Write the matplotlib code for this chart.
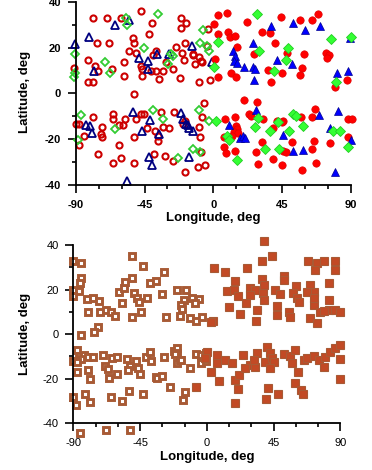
import matplotlib
matplotlib.use("Agg")
import matplotlib.pyplot as plt
from matplotlib.ticker import MultipleLocator

plt.rcParams['font.family'] = ['Liberation Sans', 'DejaVu Sans']
plt.rcParams['axes.unicode_minus'] = False

# ---------------- top panel data ----------------
red_open_lon = [-78.5, -69.3, -60.4, -47.3, -40.1, -41.8, -21.2, -17.9, -21.2,
                -76.0, -68.4, -52.7, -51.6, -54.9, -50.6, -37.5, -39.2, -24.4, -18.5, -13.5, -9.6, -7.4, -11.8, -20.5, -19.0,
                -82.1, -77.3, -90.9, -75.6, -66.3, -58.4, -58.6, -82.1, -78.5, -51.6, -46.6, -47.3, -40.6, -37.5, -33.1,
                -31.0, -26.6, -46.6, -35.3, -21.6, -9.2, -2.2, -3.3, -4.4, -13.1, -8.1,
                -78.5, -89.8, -87.6, -84.8, -87.6, -72.8, -73.4, -73.0, -75.6, -65.4, -65.4, -61.5, -57.5, -58.8,
                -47.3, -45.1, -50.6, -34.2, -43.4, -37.9, -36.4, -36.4, -33.1, -29.2, -51.6, -61.5, -65.4, -60.4,
                -51.6, -38.6, -31.4, -26.6, -18.3, -10.3, -5.2, -8.1, -8.5, -9.6, -7.4, -6.3, -25.5, -20.0, -18.3]
red_open_lat = [33.1, 33.1, 33.1, 36.0, 30.7, 25.8, 32.8, 30.7, 28.7,
                21.9, 21.9, 24.1, 21.8, 18.6, 17.5, 18.6, 16.8, 20.3, 21.8, 16.8, 15.7, 13.6, 12.8, 17.8, 14.5,
                14.8, 11.9, 11.3, 9.9, 10.7, 13.8, 7.5, 4.9, 4.9, -0.3, 10.6, 12.1, 9.9, 9.9, 9.9,
                13.8, 10.6, 7.5, 6.5, 6.7, 4.8, 6.0, 28.0, 20.7, 17.1, 14.2,
                -10.4, -13.3, -13.3, -18.4, -22.3, -14.5, -17.7, -19.0, -26.4, -9.0, -11.1, -13.6, -11.1, -13.6,
                -9.0, -9.0, -11.1, -8.3, -15.2, -16.2, -18.4, -20.6, -14.8, -15.2, -19.1, -22.3, -30.4, -28.1,
                -30.4, -26.4, -27.1, -29.3, -34.3, -32.2, -31.4, -25.6, -19.1, -14.5, -10.4, -4.2, -8.0, -13.3, -11.9]

blue_open_lon = [-90.4, -81.5, -64.3, -55.3, -48.4, -36.8, -28.8, -14.0, -78.0, -42.9, -42.9, -0.7,
                 -83.2, -80.6, -79.3, -52.7, -41.4, -46.6, -35.3, -42.3, -40.1, -56.4, -16.2, -21.2,
                 -20.0, -17.9, -16.8, -15.7, -13.5]
blue_open_lat = [21.5, 24.6, 29.7, 32.2, 15.4, 17.1, 17.4, 20.7, 9.9, 14.2, 10.6, 13.5,
                 -13.6, -14.0, -17.4, -8.3, -11.4, -16.5, -17.7, -27.5, -31.4, -38.0, -27.5, -8.7,
                 -11.1, -13.3, -13.8, -15.2, -16.4]

green_open_lon = [-57.0, -56.4, -36.4, -6.6, -45.5, -27.7, -26.6, -8.7, -4.4, -2.6, -90.4, -90.2, -90.9,
                  -70.6, -67.6, -29.9,
                  -86.5, -88.3, -64.1, -39.7, -33.1, -23.0, -13.5, -8.7, -9.6, -2.6]
green_open_lat = [32.8, 29.9, 34.8, 27.7, 20.0, 17.1, 16.4, 22.2, 20.7, 18.6, 17.1, 9.1, 7.0,
                  13.8, 8.9, 13.0,
                  -9.3, -20.3, -15.5, -7.2, -11.1, -28.2, -24.2, -25.7, -7.2, -12.2]

red_fill_lon = [3.3, 8.7, 21.8, 0.6, 2.8, 9.4, 10.9, 14.2, 31.6, 37.0, 44.0, 56.7, 64.7, 68.6, 40.3, 47.9,
                59.3, 73.4, 75.5, 74.2, 26.8, 15.7, 35.5, 44.7, 57.8, 56.7, 37.5, 3.3, 11.5, 14.6, 1.3,
                87.6, 79.8,
                20.3, 28.8, 23.5, 24.8, 31.8, 27.9, 29.2, 7.4, 14.4, 14.8, 15.6, 13.7, 16.3, 11.9, 6.8, 7.2,
                8.5, 14.4, 32.7, 38.8, 44.9, 57.8, 67.1, 45.8, 64.5, 66.0, 51.4, 39.2, 41.4, 45.8, 57.3,
                66.7, 64.5, 76.3, 87.8, 90.9, 87.8, 44.9, 47.5]
red_fill_lat = [34.2, 34.9, 31.2, 30.2, 26.1, 27.0, 24.4, 25.1, 27.0, 26.2, 33.3, 31.9, 31.9, 34.8, 21.9, 17.8,
                17.1, 17.5, 16.8, 15.3, 17.1, 20.3, 10.2, 8.8, 11.0, 8.1, 5.1, 7.3, 9.1, 7.3, 15.2,
                5.9, 2.9,
                -2.8, -3.9, -9.0, -10.0, -21.3, -25.7, -30.7, -11.1, -10.1, -14.0, -15.5, -17.0, -17.4, -18.6,
                -19.0, -23.5, -26.0, -24.9, -11.1, -28.7, -31.4, -33.2, -30.3, -24.9, -24.2, -20.6, -21.3,
                -15.1, -11.9, -11.9, -10.1, -6.8, -10.1, -21.7, -11.1, -11.1, -18.8, -12.3, -25.7]

blue_fill_lon = [37.7, 51.9, 59.9, 69.9, 89.6, 25.7, 13.0, 14.2, 13.7, 15.2, 19.8, 25.7, 27.4, 26.8,
                 41.4, 51.2, 80.9, 87.8,
                 27.9, 10.4, 17.6, 19.3, 21.0, 45.3, 51.9, 58.4, 69.3, 76.5, 81.3, 90.0, 79.8]
blue_fill_lat = [29.4, 30.6, 27.7, 29.4, 24.3, 22.2, 18.6, 16.4, 14.2, 13.4, 11.6, 11.6, 10.6, 5.8,
                 14.5, 13.0, 8.7, 9.6,
                 -7.2, -13.6, -19.3, -18.6, -19.3, -18.1, -24.9, -24.6, -9.3, -15.2, -7.5, -20.3, -34.3]

green_fill_lon = [28.5, 76.9, 89.8, 48.6, 29.7, 2.9, 39.9, 47.5, 0.6, 80.2,
                  1.7, 9.2, 10.3, 15.5, 29.0, 27.4, 33.8, 42.7, 37.3, 42.1, 49.7, 52.3, 54.1, 58.8,
                  78.0, 82.8, 87.8]
green_fill_lat = [34.8, 23.9, 24.8, 20.0, 18.6, 22.6, 9.9, 14.7, 11.6, 5.1,
                  -12.2, -18.7, -20.1, -29.0, -10.7, -14.8, -24.2, -24.2, -16.2, -12.6, -16.2, -9.0, -9.7, -14.0,
                  -16.2, -16.2, -23.2]

# ---------------- bottom panel data ----------------
sq_open_lon = [-90.0, -85.1, -50.2, -43.0, -28.9, -84.6, -85.5, -90.0, -86.2, -90.0, -81.0, -76.5, -72.7,
               -59.2, -55.8, -55.2, -50.2, -49.1, -47.3, -45.7, -40.1, -38.3, -34.5, -30.0, -19.9, -14.3,
               -15.4, -17.2, -16.5, -9.8, -5.3, -8.0, -57.0, -80.1, -72.0, -68.2, -64.8, -62.1, -50.2, -44.2,
               -27.8, -18.1, -11.3, -7.5, -3.0, -73.4, -76.1, -85.1,
               -87.3, -90.0, -86.0, -82.6, -80.4, -85.1, -87.3, -76.5, -69.8, -87.3, -80.1, -78.8, -68.9,
               -66.6, -66.0, -63.7, -60.8, -60.8, -54.0, -51.8, -53.0, -48.0, -46.4, -45.0, -41.2, -38.3,
               -37.4, -34.5, -33.4, -30.0, -28.9, -24.8, -22.0, -20.3, -19.8, -21.4, -20.2, -18.0, -17.5,
               -11.3, -7.5, -4.2, -0.8, -4.2, -0.5, -90.0, -88.4, -82.4, -78.8, -64.8, -57.0, -52.5, -43.0,
               -14.7, -16.2, -85.5, -68.2, -52.0]
sq_open_lat = [32.9, 31.9, 34.9, 30.8, 28.1, 25.1, 22.9, 19.9, 19.4, 16.9, 15.8, 16.1, 14.9,
               19.1, 20.6, 23.2, 25.1, 18.4, 16.4, 14.3, 16.1, 22.9, 23.9, 17.9, 19.9, 19.9,
               15.4, 13.1, 11.3, 16.1, 15.8, 13.9, 13.9, 9.8, 9.8, 10.9, 9.8, 8.3, 7.9, 10.1,
               7.9, 8.2, 7.1, 5.9, 7.9, 3.0, 0.9, -0.3,
               -7.1, -12.0, -9.6, -9.3, -10.1, -11.1, -12.3, -10.1, -9.3, -16.8, -16.1, -20.1, -14.1,
               -15.6, -19.8, -10.8, -10.1, -18.0, -11.1, -14.1, -16.1, -12.0, -15.0, -18.0, -10.1, -8.1,
               -12.0, -19.1, -19.8, -18.6, -10.1, -23.7, -7.5, -6.4, -8.6, -8.7, -13.1, -11.7, -11.6,
               -15.0, -9.0, -9.3, -8.6, -13.1, -12.0, -28.1, -31.8, -27.0, -30.3, -28.4, -30.0, -25.5, -27.0,
               -25.9, -29.7, -44.2, -43.0, -43.0]

sq_fill_lon = [38.3, 43.9, 37.2, 5.0, 12.4, 27.0, 19.1, 37.2, 38.7, 51.8, 52.3, 60.4, 68.0, 74.3, 79.3,
               73.2, 86.7, 86.7, 82.2, 13.5, 18.0, 20.7, 29.3, 32.7, 28.8, 37.8, 38.3, 46.2, 49.5, 58.1,
               60.8, 61.9, 69.8, 72.1, 72.1, 67.6, 72.5, 82.2, 82.2, 86.7, 90.1, 26.4, 15.3, 22.1, 33.8,
               47.3, 47.3, 55.2, 56.3, 33.3, 4.1, 76.6, 69.4, 74.3, 79.0, 2.6,
               0.0, -1.1, 6.8, 6.8, 12.4, 16.9, 2.8, 8.0, 19.1, 21.9, 20.9, 19.0, 24.3, 29.3, 32.7, 33.8,
               31.5, 40.5, 42.8, 39.4, 43.9, 45.0, 42.8, 41.1, 39.9, 47.8, 51.8, 56.3, 59.2, 57.4, 61.5,
               59.7, 63.5, 65.1, 65.3, 67.6, 72.1, 75.5, 78.8, 79.9, 83.3, 86.7, 90.1, 90.1, 89.8, -7.3,
               25.5]
sq_fill_lat = [41.9, 34.9, 32.9, 29.9, 28.1, 29.9, 23.9, 24.8, 22.1, 25.9, 24.4, 21.8, 32.9, 31.9, 32.9,
               28.9, 32.9, 28.9, 22.9, 19.4, 19.9, 17.3, 20.9, 19.9, 17.6, 18.4, 15.4, 19.9, 17.9, 18.4,
               16.4, 14.6, 22.1, 19.1, 13.1, 19.1, 16.0, 15.4, 10.9, 10.9, 10.1, 14.2, 12.4, 8.9, 10.9,
               12.8, 8.6, 9.8, 7.9, 6.0, 6.0, 9.8, 7.1, 5.1, 10.5, 5.6,
               -7.8, -10.8, -9.3, -13.1, -11.6, -13.1, -16.9, -21.0, -20.6, -18.4, -24.7, -30.7, -9.3, -13.8,
               -14.6, -8.6, -11.6, -5.6, -8.6, -12.3, -10.8, -12.3, -15.0, -24.0, -29.2, -27.0, -9.0, -9.6,
               -7.1, -12.8, -16.8, -21.9, -24.9, -27.0, -11.6, -10.8, -9.6, -11.6, -14.6, -10.1, -7.8, -6.3,
               -4.8, -11.2, -19.9, -23.7, -15.0]

x_ticks = [-90, -45, 0, 45, 90]
y_ticks = [-40, -20, 0, 20, 40]

W, H = 372, 470
fig = plt.figure(figsize=(W / 100, H / 100), dpi=100)
fig.patch.set_facecolor('white')


def style_axes(ax, bold):
    ax.set_xlim(-90, 90)
    ax.set_ylim(-40, 40)
    for s in ('top', 'right'):
        ax.spines[s].set_visible(False)
    for s in ('left', 'bottom'):
        ax.spines[s].set_linewidth(1.3)
    ax.set_xticks(x_ticks)
    ax.set_yticks(y_ticks)
    ax.xaxis.set_minor_locator(MultipleLocator(15))
    ax.yaxis.set_minor_locator(MultipleLocator(10))
    ax.tick_params(which='major', direction='out', length=5.5, width=1.2, pad=5,
                   labelsize=8)
    ax.tick_params(which='minor', direction='out', length=3, width=1.2)
    for lab in ax.get_xticklabels() + ax.get_yticklabels():
        lab.set_fontweight('bold' if bold else 'normal')
    ax.set_facecolor('none')


# ---- top axes ----
ax1 = fig.add_axes([75.7 / W, 1 - 185.2 / H, (351 - 75.7) / W, 183.5 / H])
style_axes(ax1, True)
ax1.plot(red_open_lon, red_open_lat, 'o', ms=4.4, mfc='none', mec='#CC0000', mew=1.5, clip_on=False)
ax1.plot(blue_open_lon, blue_open_lat, '^', ms=5.6, mfc='none', mec='#000080', mew=1.3, clip_on=False)
ax1.plot(green_open_lon, green_open_lat, 'D', ms=3.9, mfc='none', mec='#33CC33', mew=1.3, clip_on=False)
ax1.plot(red_fill_lon, red_fill_lat, 'o', ms=5.3, mfc='#FF0000', mec='#E00000', mew=0.5, clip_on=False)
ax1.plot(blue_fill_lon, blue_fill_lat, '^', ms=6.3, mfc='#0000FF', mec='#000090', mew=0.5, clip_on=False)
ax1.plot(green_fill_lon, green_fill_lat, 'D', ms=4.6, mfc='#33FF33', mec='#22CC22', mew=0.6, clip_on=False)

# ---- bottom axes ----
ax2 = fig.add_axes([73.3 / W, 1 - 423.3 / H, (340.3 - 73.3) / W, (423.3 - 245) / H])
style_axes(ax2, False)
ax2.plot(sq_open_lon, sq_open_lat, 's', ms=3.9, mfc='white', mec='#A85A35', mew=2.1, clip_on=False)
ax2.plot(sq_fill_lon, sq_fill_lat, 's', ms=5.3, mfc='#C24A25', mec='#A85A35', mew=0.8, clip_on=False)

# ---- axis titles ----
fig.text(213 / W, 1 - 218 / H, 'Longitude, deg', ha='center', va='center', fontsize=9.5, fontweight='bold')
fig.text(25 / W, 1 - 92 / H, 'Latitude, deg', ha='center', va='center', rotation=90, fontsize=9.5, fontweight='bold')
fig.text(207 / W, 1 - 457 / H, 'Longitude, deg', ha='center', va='center', fontsize=9.5, fontweight='bold')
fig.text(25 / W, 1 - 334 / H, 'Latitude, deg', ha='center', va='center', rotation=90, fontsize=9.5, fontweight='bold')

fig.savefig('out.png', dpi=100)
